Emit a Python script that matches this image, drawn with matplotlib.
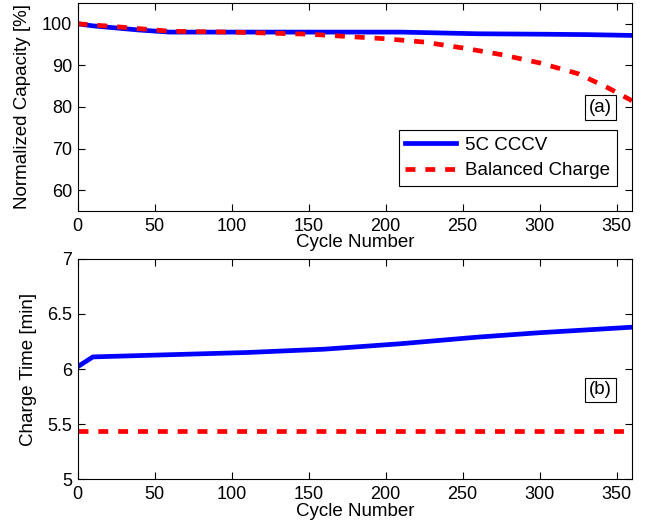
import matplotlib
matplotlib.use('Agg')
import matplotlib.pyplot as plt

plt.rcParams['font.family'] = ['Liberation Sans', 'DejaVu Sans']
plt.rcParams['font.size'] = 13.5

# capacity data (a)
cyc_a = [0, 10, 25, 40, 60, 100, 150, 210, 260, 300, 330, 360]
cccv_cap = [100, 99.5, 99.0, 98.5, 98.0, 98.0, 98.0, 98.0, 97.6, 97.5, 97.4, 97.2]
cyc_bal = [0, 25, 60, 100, 150, 200, 225, 250, 275, 300, 325, 345, 360]
bal_cap = [100, 99.3, 98.2, 98.0, 97.5, 96.4, 95.6, 94.2, 92.6, 90.6, 88.0, 84.5, 81.5]

# charge time data (b)
cyc_b = [0, 10, 110, 160, 210, 260, 300, 360]
cccv_time = [6.02, 6.11, 6.15, 6.18, 6.23, 6.29, 6.33, 6.38]
cyc_b_bal = [0, 360]
bal_time = [5.435, 5.435]

dash = (0, (2.1, 2.1))

fig = plt.figure(figsize=(6.47, 5.23), dpi=100)
ax1 = fig.add_axes([0.1198, 0.5966, 0.857, 0.3977])
ax2 = fig.add_axes([0.1198, 0.0841, 0.857, 0.4207])

ax1.plot(cyc_a, cccv_cap, color='blue', lw=3.4, label='5C CCCV')
ax1.plot(cyc_bal, bal_cap, color='red', lw=3.4, ls=dash, label='Balanced Charge')
ax1.set_xlim(0, 360)
ax1.set_ylim(55, 105)
ax1.set_yticks([60, 70, 80, 90, 100])
ax1.set_xticks(range(0, 351, 50))
ax1.set_ylabel('Normalized Capacity [%]')
ax1.set_xlabel('Cycle Number')
ax1.yaxis.set_label_coords(-0.083, 0.5)
ax1.xaxis.set_label_coords(0.5, -0.11)
leg = ax1.legend(loc='lower right', bbox_to_anchor=(0.973, 0.12), borderaxespad=0,
                 fancybox=False, edgecolor='black', framealpha=1, handlelength=2.7,
                 handletextpad=0.5, borderpad=0.35, labelspacing=0.45)
leg.get_frame().set_linewidth(0.8)
ax1.text(0.943, 0.498, '(a)', transform=ax1.transAxes, ha='center', va='center',
         bbox=dict(boxstyle='square,pad=0.2', fc='white', ec='black', lw=0.8))

ax2.plot(cyc_b, cccv_time, color='blue', lw=3.4)
ax2.plot(cyc_b_bal, bal_time, color='red', lw=3.4, ls=dash)
ax2.set_xlim(0, 360)
ax2.set_ylim(5, 7)
ax2.set_yticks([5, 5.5, 6, 6.5, 7])
ax2.set_yticklabels(['5', '5.5', '6', '6.5', '7'])
ax2.set_xticks(range(0, 351, 50))
ax2.set_ylabel('Charge Time [min]')
ax2.set_xlabel('Cycle Number')
ax2.yaxis.set_label_coords(-0.073, 0.5)
ax2.xaxis.set_label_coords(0.5, -0.108)
ax2.text(0.943, 0.405, '(b)', transform=ax2.transAxes, ha='center', va='center',
         bbox=dict(boxstyle='square,pad=0.2', fc='white', ec='black', lw=0.8))

for ax in (ax1, ax2):
    ax.tick_params(direction='in', top=True, right=True, length=5, labelsize=13)
    ax.tick_params(axis='x', pad=5)
    ax.tick_params(axis='y', pad=4)
    for s in ax.spines.values():
        s.set_linewidth(0.8)

fig.savefig('out.png', dpi=100)
